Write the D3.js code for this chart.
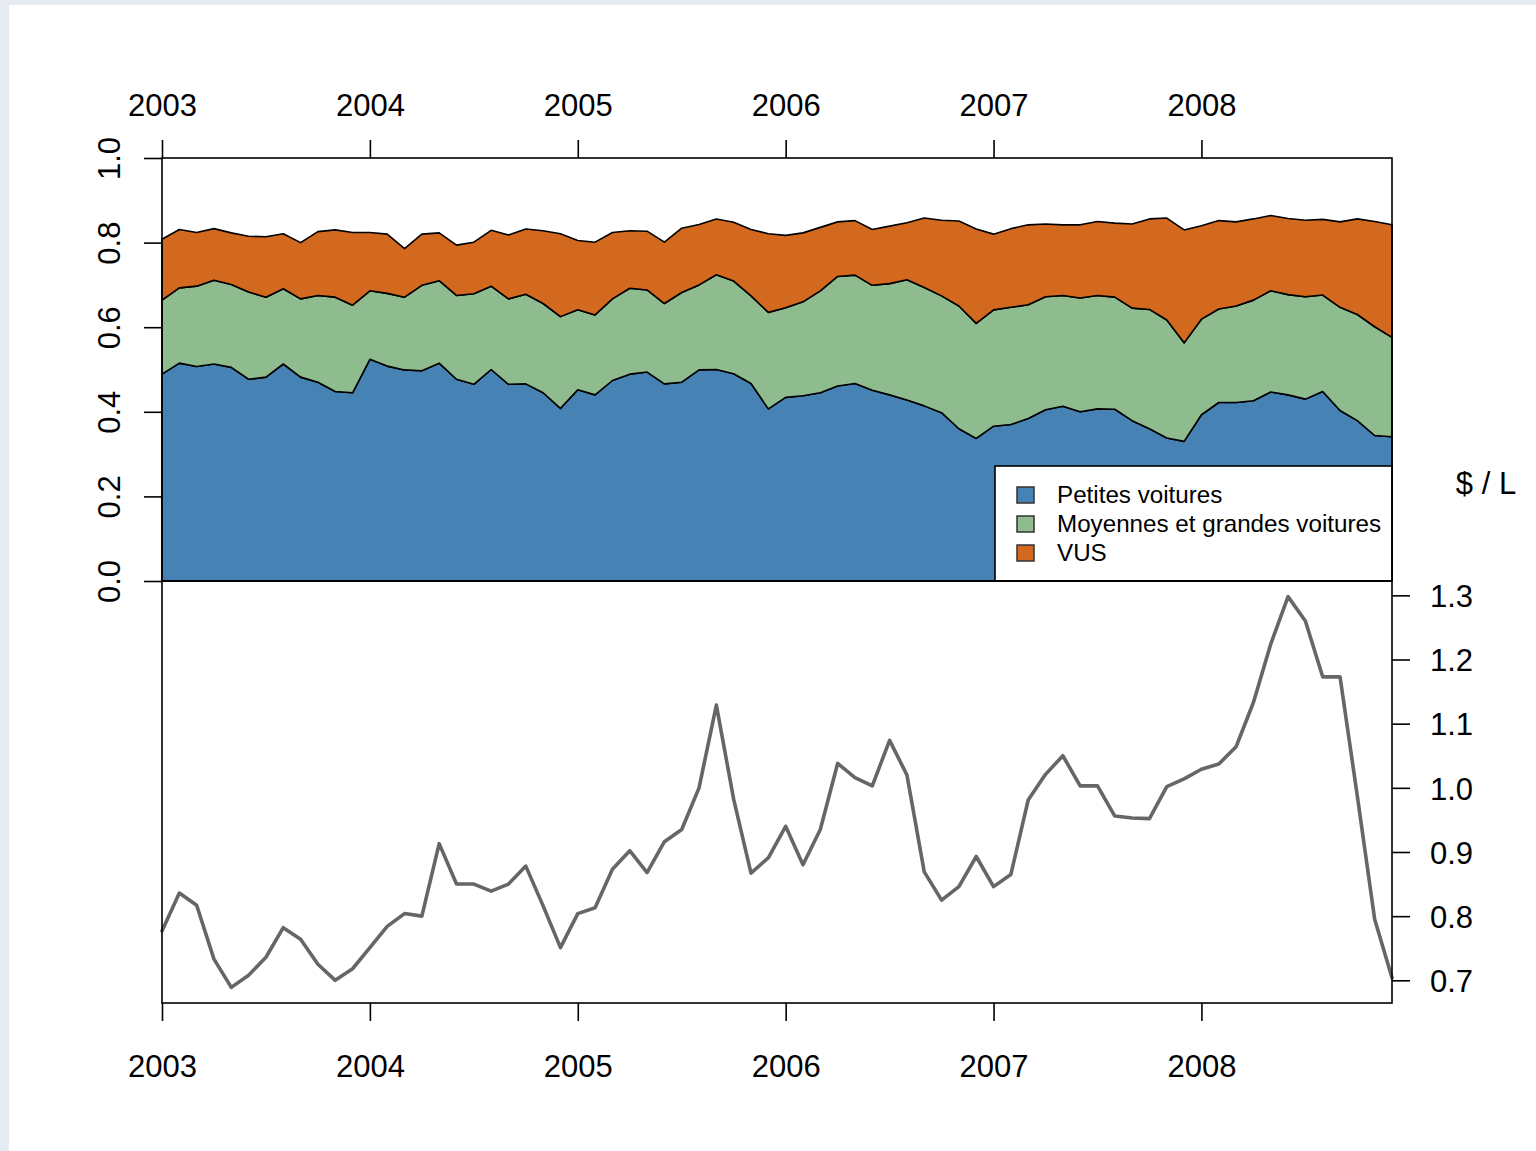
<!DOCTYPE html>
<html>
<head>
<meta charset="utf-8">
<script src="https://cdn.jsdelivr.net/npm/d3@7"></script>
<style>
  body { margin: 0; background: #ffffff; }
  svg { display: block; }
  text { font-family: "Liberation Sans", Arial, Helvetica, sans-serif; fill: #000; }
</style>
</head>
<body>
<svg id="chart" width="1536" height="1151"></svg>
<script>
// Monthly series, January 2003 to December 2008
const startYear = 2003;
const yearTicks = [2003, 2004, 2005, 2006, 2007, 2008];
const shareTicks = [0, 0.2, 0.4, 0.6, 0.8, 1.0];
const priceTicks = [0.7, 0.8, 0.9, 1.0, 1.1, 1.2, 1.3];
const seriesNames = ["Petites voitures", "Moyennes et grandes voitures", "VUS"];
const seriesColors = ["#4682b4", "#8fbc8f", "#d2691e"];

// Market share of new vehicle sales by segment
const smallCars = [
  0.489, 0.515, 0.507, 0.513, 0.505, 0.477, 0.482, 0.513, 0.482, 0.470, 0.448, 0.445,
  0.524, 0.508, 0.499, 0.497, 0.515, 0.477, 0.465, 0.500, 0.465, 0.466, 0.445, 0.408,
  0.452, 0.440, 0.474, 0.489, 0.494, 0.466, 0.470, 0.499, 0.500, 0.490, 0.467, 0.407,
  0.434, 0.438, 0.445, 0.461, 0.467, 0.451, 0.440, 0.428, 0.414, 0.398, 0.360, 0.337,
  0.366, 0.370, 0.384, 0.405, 0.413, 0.400, 0.407, 0.406, 0.379, 0.360, 0.338, 0.330,
  0.393, 0.422, 0.422, 0.426, 0.447, 0.440, 0.430, 0.448, 0.403, 0.379, 0.344, 0.341
];
const midLargeCars = [
  0.175, 0.178, 0.190, 0.198, 0.196, 0.206, 0.189, 0.178, 0.185, 0.205, 0.223, 0.207,
  0.162, 0.172, 0.172, 0.202, 0.195, 0.198, 0.214, 0.197, 0.202, 0.212, 0.211, 0.217,
  0.189, 0.189, 0.193, 0.203, 0.194, 0.190, 0.212, 0.201, 0.224, 0.219, 0.207, 0.228,
  0.212, 0.222, 0.241, 0.259, 0.256, 0.248, 0.263, 0.284, 0.280, 0.276, 0.290, 0.272,
  0.275, 0.277, 0.269, 0.267, 0.262, 0.269, 0.268, 0.265, 0.266, 0.282, 0.279, 0.233,
  0.226, 0.221, 0.228, 0.238, 0.239, 0.237, 0.242, 0.228, 0.244, 0.251, 0.257, 0.235
];
const suvs = [
  0.144, 0.138, 0.127, 0.122, 0.122, 0.132, 0.143, 0.130, 0.133, 0.151, 0.159, 0.172,
  0.138, 0.140, 0.115, 0.121, 0.113, 0.119, 0.122, 0.132, 0.151, 0.154, 0.172, 0.196,
  0.164, 0.172, 0.157, 0.136, 0.139, 0.145, 0.152, 0.143, 0.132, 0.139, 0.157, 0.186,
  0.171, 0.163, 0.150, 0.129, 0.129, 0.132, 0.136, 0.135, 0.164, 0.179, 0.201, 0.223,
  0.179, 0.186, 0.189, 0.172, 0.167, 0.173, 0.175, 0.175, 0.199, 0.214, 0.241, 0.267,
  0.221, 0.209, 0.199, 0.192, 0.178, 0.180, 0.181, 0.179, 0.202, 0.226, 0.249, 0.266
];

// Average gasoline price, $ per litre
const gasPrice = [
  0.777, 0.836, 0.817, 0.733, 0.689, 0.708, 0.736, 0.782, 0.764, 0.725, 0.700, 0.718,
  0.751, 0.784, 0.804, 0.800, 0.913, 0.850, 0.850, 0.839, 0.850, 0.878, 0.816, 0.751,
  0.804, 0.813, 0.873, 0.902, 0.868, 0.916, 0.935, 1.000, 1.129, 0.982, 0.867, 0.891,
  0.940, 0.880, 0.935, 1.038, 1.016, 1.003, 1.074, 1.020, 0.869, 0.825, 0.846, 0.893,
  0.846, 0.865, 0.981, 1.021, 1.050, 1.003, 1.003, 0.956, 0.953, 0.952, 1.002, 1.014,
  1.029, 1.037, 1.064, 1.133, 1.224, 1.298, 1.260, 1.173, 1.173, 0.987, 0.795, 0.704
];

const months = d3.range(smallCars.length).map(i => startYear + i / 12);
const keys = ["small", "mid", "suv"];
const rows = months.map((t, i) => ({ t, small: smallCars[i], mid: midLargeCars[i], suv: suvs[i] }));
const stacked = d3.stack().keys(keys)(rows);

// Plot geometry: upper panel for shares, lower panel for price
const left = 162, right = 1392;
const topY = 158, midY = 581, bottomY = 1003;
const tickLen = 18;
const tickFont = 31;

const svg = d3.select("#chart");

// page backdrop
svg.append("rect").attr("x", 0).attr("y", 0).attr("width", 1536).attr("height", 1151).attr("fill", "#e6ebf2");
svg.append("rect").attr("x", 9).attr("y", 5).attr("width", 1527).attr("height", 1146).attr("fill", "#ffffff");

const x = d3.scaleLinear().domain([months[0], months[months.length - 1]]).range([left, right]);
const yShare = d3.scaleLinear().domain([0, 1]).range([midY, topY]);
const [pLo, pHi] = d3.extent(gasPrice);
const pad = 0.04 * (pHi - pLo);
const yPrice = d3.scaleLinear().domain([pLo - pad, pHi + pad]).range([bottomY, midY]);

// stacked areas
const area = d3.area()
  .x(d => x(d.data.t))
  .y0(d => yShare(d[0]))
  .y1(d => yShare(d[1]));

svg.append("g").selectAll("path")
  .data(stacked)
  .join("path")
  .attr("d", area)
  .attr("fill", (d, i) => seriesColors[i])
  .attr("stroke", "#000")
  .attr("stroke-width", 1.6)
  .attr("stroke-linejoin", "round");

// price line
const line = d3.line()
  .x((d, i) => x(months[i]))
  .y(d => yPrice(d));

svg.append("path")
  .datum(gasPrice)
  .attr("d", line)
  .attr("fill", "none")
  .attr("stroke", "#666666")
  .attr("stroke-width", 3.6)
  .attr("stroke-linejoin", "round")
  .attr("stroke-linecap", "round");

// legend
const legend = svg.append("g");
legend.append("rect")
  .attr("x", 995).attr("y", 466)
  .attr("width", right - 995).attr("height", midY - 466)
  .attr("fill", "#ffffff").attr("stroke", "#000").attr("stroke-width", 1.6);
const legendRowY = [495, 524, 553];
seriesNames.forEach((name, i) => {
  legend.append("rect")
    .attr("x", 1017).attr("y", legendRowY[i] - 8)
    .attr("width", 17).attr("height", 16)
    .attr("fill", seriesColors[i]).attr("stroke", "#333").attr("stroke-width", 1.5);
  legend.append("text")
    .attr("x", 1057).attr("y", legendRowY[i])
    .attr("dy", "0.35em")
    .attr("font-size", 24.2)
    .text(name);
});

// panel frames
svg.append("rect").attr("x", left).attr("y", topY).attr("width", right - left).attr("height", midY - topY)
  .attr("fill", "none").attr("stroke", "#000").attr("stroke-width", 1.6);
svg.append("rect").attr("x", left).attr("y", midY).attr("width", right - left).attr("height", bottomY - midY)
  .attr("fill", "none").attr("stroke", "#000").attr("stroke-width", 1.6);

function styleAxis(g) {
  g.select(".domain").remove();
  g.selectAll(".tick line").attr("stroke", "#000").attr("stroke-width", 1.6);
  g.selectAll(".tick text").attr("font-size", tickFont).attr("fill", "#000")
    .style("font-family", '"Liberation Sans", Arial, Helvetica, sans-serif');
}

// top year axis
svg.append("g").attr("transform", `translate(0,${topY})`)
  .call(d3.axisTop(x).tickValues(yearTicks).tickFormat(d3.format("d")).tickSize(tickLen))
  .call(styleAxis)
  .call(g => g.selectAll(".tick text").attr("y", -42).attr("dy", 0));

// bottom year axis
svg.append("g").attr("transform", `translate(0,${bottomY})`)
  .call(d3.axisBottom(x).tickValues(yearTicks).tickFormat(d3.format("d")).tickSize(tickLen))
  .call(styleAxis)
  .call(g => g.selectAll(".tick text").attr("y", 74).attr("dy", 0));

// left share axis, rotated labels
svg.append("g").attr("transform", `translate(${left},0)`)
  .call(d3.axisLeft(yShare).tickValues(shareTicks).tickFormat(d3.format(".1f")).tickSize(tickLen))
  .call(styleAxis)
  .call(g => g.selectAll(".tick text")
    .attr("x", 0).attr("y", 0).attr("dy", 0)
    .attr("text-anchor", "middle")
    .attr("transform", "translate(-42,0) rotate(-90)"));

// right price axis
svg.append("g").attr("transform", `translate(${right},0)`)
  .call(d3.axisRight(yPrice).tickValues(priceTicks).tickFormat(d3.format(".1f")).tickSize(tickLen))
  .call(styleAxis)
  .call(g => g.selectAll(".tick text").attr("x", 38).attr("dy", "0.36em"));

// unit label
svg.append("text")
  .attr("x", 1486).attr("y", 494)
  .attr("text-anchor", "middle")
  .attr("font-size", tickFont)
  .text("$ / L");
</script>
</body>
</html>
